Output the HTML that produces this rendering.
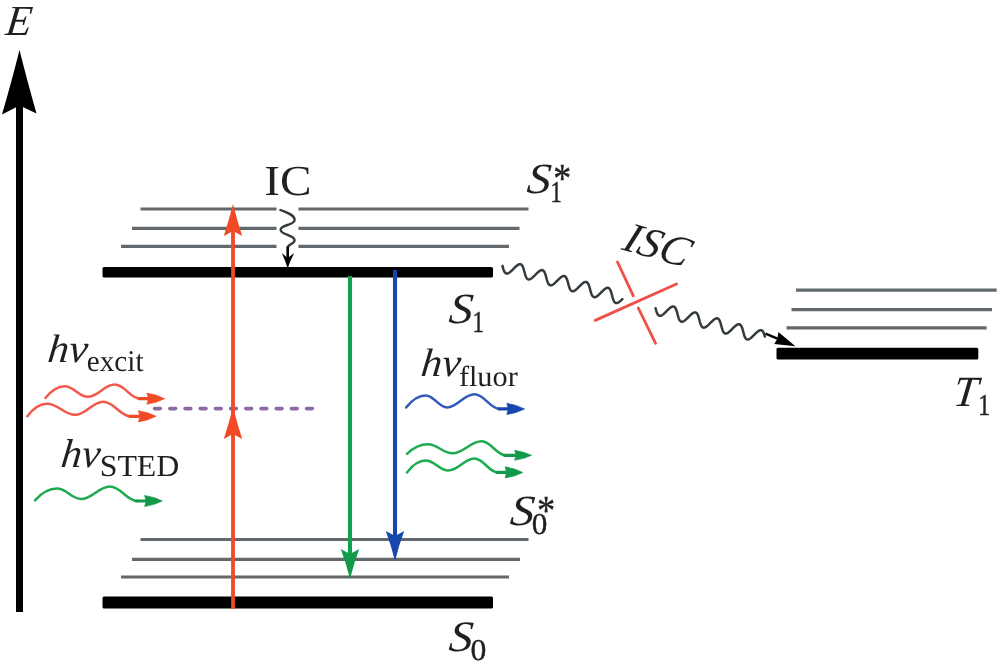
<!DOCTYPE html>
<html><head><meta charset="utf-8"><title>Jablonski diagram</title>
<style>
html,body{margin:0;padding:0;background:#fff;}
body{width:1000px;height:672px;overflow:hidden;}
svg{display:block;text-rendering:geometricPrecision;filter:blur(0.55px);font-family:"Liberation Serif",serif;fill:#231f20;}
</style></head><body>
<svg width="1000" height="672" viewBox="0 0 1000 672">
<rect width="1000" height="672" fill="#fff"/>
<line x1="140.5" y1="209" x2="276.5" y2="209" stroke="#62686b" stroke-width="3.2"/>
<line x1="298.5" y1="209" x2="528.5" y2="209" stroke="#62686b" stroke-width="3.2"/>
<line x1="132" y1="228.3" x2="276.5" y2="228.3" stroke="#62686b" stroke-width="3.2"/>
<line x1="298.5" y1="228.3" x2="519.5" y2="228.3" stroke="#62686b" stroke-width="3.2"/>
<line x1="121" y1="246.4" x2="276.5" y2="246.4" stroke="#62686b" stroke-width="3.2"/>
<line x1="298.5" y1="246.4" x2="509" y2="246.4" stroke="#62686b" stroke-width="3.2"/>
<line x1="140.5" y1="539.5" x2="528.5" y2="539.5" stroke="#62686b" stroke-width="3.2"/>
<line x1="132" y1="559.3" x2="520" y2="559.3" stroke="#62686b" stroke-width="3.2"/>
<line x1="121" y1="577" x2="509" y2="577" stroke="#62686b" stroke-width="3.2"/>
<line x1="796" y1="290.2" x2="996.7" y2="290.2" stroke="#62686b" stroke-width="3.2"/>
<line x1="791.5" y1="309.6" x2="992" y2="309.6" stroke="#62686b" stroke-width="3.2"/>
<line x1="786.5" y1="327.8" x2="986.6" y2="327.8" stroke="#62686b" stroke-width="3.2"/>
<rect x="102.5" y="266.9" width="390.5" height="10.6" rx="1.5" fill="#000"/>
<rect x="102.5" y="596.4" width="390.5" height="12.2" rx="1.5" fill="#000"/>
<rect x="776.5" y="347.8" width="201.79999999999995" height="11.6" rx="1.5" fill="#000"/>
<line x1="154.6" y1="408.6" x2="313.5" y2="408.6" stroke="#8c69a2" stroke-width="3.6" stroke-dasharray="5.8 9.4" stroke-linecap="round"/>
<line x1="19.5" y1="100" x2="19.5" y2="612" stroke="#000" stroke-width="7"/>
<path d="M19.5,50 Q27,80 36.5,113.5 L19.5,105.5 L2,114.5 Q12,80 19.5,50 Z" fill="#000"/>
<line x1="233" y1="225" x2="233" y2="609" stroke="#f04a26" stroke-width="3.8"/>
<path d="M233,204 Q237,220 242.2,236 L233,231 L223.8,236 Q229,220 233,204 Z" fill="#f04a26"/>
<path d="M233,407 Q237,423 242.2,439 L233,434 L223.8,439 Q229,423 233,407 Z" fill="#f04a26"/>
<line x1="350" y1="276" x2="350" y2="560" stroke="#12a14c" stroke-width="4.1"/>
<path d="M350,579 Q354,563 359.2,549 L350,554 L340.8,549 Q346,563 350,579 Z" fill="#13994a"/>
<line x1="395" y1="270" x2="395" y2="540" stroke="#1746ae" stroke-width="4.1"/>
<path d="M395,561 Q399,545 404.2,531 L395,536 L385.8,531 Q391,545 395,561 Z" fill="#1746ae"/>
<path d="M280.4,210 C286.5,212.5 294.6,214.5 294.6,220 C294.6,225.5 280.6,224.5 280.6,229.8 C280.6,235 294.6,235 294.6,240.3 C294.6,244.5 287.7,243.5 287.7,248" fill="none" stroke="#343b3f" stroke-width="2.4" stroke-linecap="round"/>
<line x1="287.7" y1="246.5" x2="287.7" y2="262" stroke="#000" stroke-width="2.6"/>
<path d="M287.7,268.5 Q290,261 294.2,253 L287.7,258 L281.8,253 Q285.5,261 287.7,268.5 Z" fill="#000"/>
<path d="M502.49,265.89 L502.66,266.54 L502.83,267.18 L503.01,267.82 L503.19,268.44 L503.37,269.04 L503.56,269.61 L503.76,270.16 L503.96,270.68 L504.18,271.17 L504.40,271.61 L504.64,272.02 L504.89,272.38 L505.15,272.69 L505.42,272.96 L505.71,273.17 L506.01,273.34 L506.32,273.45 L506.65,273.51 L506.99,273.52 L507.35,273.48 L507.72,273.39 L508.10,273.26 L508.50,273.07 L508.90,272.84 L509.32,272.57 L509.75,272.26 L510.19,271.92 L510.64,271.54 L511.09,271.14 L511.55,270.72 L512.01,270.27 L512.48,269.81 L512.96,269.35 L513.43,268.87 L513.90,268.40 L514.37,267.93 L514.84,267.47 L515.31,267.02 L515.77,266.60 L516.22,266.19 L516.67,265.81 L517.11,265.47 L517.54,265.15 L517.96,264.88 L518.37,264.65 L518.76,264.46 L519.15,264.32 L519.52,264.22 L519.87,264.18 L520.22,264.18 L520.55,264.24 L520.86,264.35 L521.17,264.51 L521.45,264.72 L521.73,264.98 L521.99,265.29 L522.24,265.65 L522.48,266.05 L522.70,266.49 L522.92,266.97 L523.12,267.49 L523.32,268.04 L523.51,268.61 L523.70,269.21 L523.88,269.83 L524.05,270.46 L524.22,271.10 L524.39,271.75 L524.56,272.40 L524.73,273.04 L524.91,273.67 L525.09,274.29 L525.27,274.90 L525.46,275.47 L525.66,276.03 L525.86,276.55 L526.07,277.04 L526.30,277.49 L526.53,277.89 L526.78,278.26 L527.04,278.58 L527.31,278.85 L527.60,279.07 L527.90,279.24 L528.21,279.36 L528.54,279.42 L528.88,279.44 L529.23,279.40 L529.60,279.32 L529.98,279.18 L530.38,279.00 L530.78,278.78 L531.20,278.51 L531.63,278.21 L532.06,277.87 L532.51,277.49 L532.96,277.09 L533.42,276.67 L533.89,276.23 L534.36,275.77 L534.83,275.30 L535.30,274.83 L535.77,274.35 L536.25,273.88 L536.72,273.42 L537.18,272.98 L537.64,272.55 L538.10,272.14 L538.55,271.76 L538.99,271.41 L539.42,271.09 L539.84,270.82 L540.25,270.58 L540.64,270.39 L541.03,270.24 L541.40,270.14 L541.76,270.09 L542.10,270.09 L542.44,270.15 L542.75,270.25 L543.06,270.41 L543.34,270.61 L543.62,270.87 L543.88,271.18 L544.13,271.53 L544.37,271.93 L544.60,272.36 L544.82,272.84 L545.02,273.35 L545.22,273.90 L545.41,274.47 L545.60,275.07 L545.78,275.68 L545.95,276.31 L546.12,276.96 L546.29,277.60 L546.46,278.25 L546.64,278.89 L546.81,279.53 L546.99,280.15 L547.17,280.75 L547.36,281.34 L547.55,281.89 L547.76,282.42 L547.97,282.91 L548.19,283.36 L548.43,283.77 L548.67,284.14 L548.93,284.46 L549.20,284.74 L549.49,284.96 L549.78,285.14 L550.10,285.26 L550.42,285.33 L550.76,285.35 L551.12,285.32 L551.48,285.24 L551.86,285.11 L552.26,284.94 L552.66,284.71 L553.08,284.45 L553.50,284.15 L553.94,283.81 L554.39,283.44 L554.84,283.04 L555.30,282.62 L555.76,282.18 L556.23,281.72 L556.70,281.26 L557.17,280.78 L557.65,280.31 L558.12,279.84 L558.59,279.38 L559.06,278.93 L559.52,278.50 L559.97,278.09 L560.42,277.71 L560.86,277.35 L561.29,277.04 L561.72,276.75 L562.13,276.51 L562.52,276.32 L562.91,276.17 L563.28,276.06 L563.64,276.01 L563.99,276.00 L564.32,276.05 L564.64,276.15 L564.94,276.30 L565.24,276.51 L565.51,276.76 L565.78,277.06 L566.03,277.41 L566.27,277.80 L566.50,278.24 L566.71,278.71 L566.92,279.22 L567.12,279.76 L567.31,280.33 L567.50,280.93 L567.68,281.54 L567.85,282.17 L568.02,282.81 L568.19,283.46 L568.36,284.10 L568.54,284.75 L568.71,285.39 L568.89,286.01 L569.07,286.61 L569.26,287.20 L569.45,287.76 L569.65,288.28 L569.87,288.78 L570.09,289.23 L570.32,289.65 L570.57,290.02 L570.82,290.35 L571.09,290.63 L571.38,290.86 L571.67,291.04 L571.98,291.17 L572.31,291.24 L572.65,291.27 L573.00,291.24 L573.37,291.16 L573.74,291.04 L574.14,290.87 L574.54,290.65 L574.96,290.39 L575.38,290.09 L575.82,289.76 L576.26,289.39 L576.71,288.99 L577.17,288.58 L577.64,288.14 L578.10,287.68 L578.58,287.21 L579.05,286.74 L579.52,286.27 L579.99,285.80 L580.46,285.33 L580.93,284.88 L581.39,284.45 L581.85,284.04 L582.30,283.65 L582.74,283.30 L583.17,282.98 L583.59,282.69 L584.01,282.45 L584.40,282.25 L584.79,282.09 L585.17,281.98 L585.53,281.92 L585.87,281.92 L586.21,281.96 L586.53,282.05 L586.83,282.20 L587.13,282.40 L587.40,282.65 L587.67,282.94 L587.92,283.29 L588.16,283.68 L588.39,284.11 L588.61,284.58 L588.82,285.09 L589.02,285.62 L589.21,286.19 L589.40,286.78 L589.58,287.40 L589.75,288.03 L589.92,288.67 L590.09,289.31 L590.27,289.96 L590.44,290.60 L590.61,291.24 L590.79,291.87 L590.97,292.47 L591.16,293.06 L591.35,293.62 L591.55,294.15 L591.76,294.65 L591.98,295.11 L592.22,295.53 L592.46,295.90 L592.72,296.24 L592.98,296.52 L593.27,296.75 L593.56,296.94 L593.87,297.07 L594.19,297.15 L594.53,297.18 L594.88,297.16 L595.25,297.09 L595.63,296.97 L596.02,296.80 L596.42,296.58 L596.83,296.33 L597.26,296.03 L597.69,295.70 L598.14,295.34 L598.59,294.95 L599.05,294.53 L599.51,294.09 L599.98,293.64 L600.45,293.17 L600.92,292.70 L601.39,292.22 L601.87,291.75 L602.34,291.29 L602.80,290.84 L603.27,290.40 L603.72,289.99 L604.17,289.60 L604.62,289.24 L605.05,288.92 L605.47,288.63 L605.88,288.38 L606.29,288.18 L606.67,288.02 L607.05,287.90 L607.41,287.84 L607.76,287.83 L608.09,287.87 L608.42,287.96 L608.72,288.10 L609.02,288.29 L609.30,288.54 L609.56,288.83 L609.82,289.17 L610.06,289.55 L610.29,289.98 L610.51,290.45 L610.72,290.95 L610.92,291.49 L611.11,292.05 L611.30,292.64 L611.48,293.25 L611.65,293.88 L611.82,294.52 L612.00,295.17 L612.17,295.81 L612.34,296.46 L612.51,297.10 L612.69,297.72 L612.87,298.33 L613.05,298.92 L613.25,299.48 L613.45,300.02 L613.66,300.52 L613.88,300.98 L614.11,301.40 L614.35,301.79 L614.61,302.12 L614.88,302.41 L615.16,302.65 L615.45,302.84 L615.76,302.97 L616.08,303.06 L616.42,303.09 L616.77,303.08 L617.13,303.01 L617.51,302.89 L617.90,302.73 L618.30,302.52 L618.71,302.27 L619.14,301.98 L619.57,301.65 L620.01,301.29 L620.46,300.90 L620.92,300.48 L621.38,300.04 L621.85,299.59 L622.32,299.13" fill="none" stroke="#343b3f" stroke-width="2.5" stroke-linecap="round" stroke-linejoin="round"/>
<path d="M655.59,308.19 L655.76,308.84 L655.93,309.49 L656.11,310.12 L656.29,310.74 L656.47,311.34 L656.66,311.92 L656.86,312.47 L657.06,312.99 L657.28,313.47 L657.51,313.92 L657.74,314.32 L657.99,314.68 L658.25,315.00 L658.53,315.26 L658.81,315.48 L659.12,315.64 L659.43,315.75 L659.76,315.82 L660.10,315.82 L660.46,315.78 L660.83,315.69 L661.21,315.55 L661.61,315.36 L662.02,315.13 L662.44,314.86 L662.87,314.55 L663.31,314.21 L663.75,313.83 L664.21,313.42 L664.67,313.00 L665.14,312.55 L665.61,312.09 L666.08,311.62 L666.55,311.15 L667.03,310.67 L667.50,310.20 L667.97,309.74 L668.43,309.30 L668.90,308.87 L669.35,308.47 L669.80,308.09 L670.24,307.75 L670.67,307.44 L671.09,307.16 L671.49,306.93 L671.89,306.75 L672.27,306.61 L672.64,306.52 L673.00,306.48 L673.34,306.49 L673.67,306.55 L673.99,306.66 L674.29,306.82 L674.58,307.04 L674.85,307.31 L675.11,307.62 L675.36,307.98 L675.60,308.39 L675.82,308.83 L676.04,309.32 L676.24,309.84 L676.44,310.39 L676.63,310.97 L676.81,311.57 L676.99,312.19 L677.17,312.82 L677.34,313.47 L677.51,314.11 L677.68,314.76 L677.85,315.41 L678.03,316.04 L678.21,316.66 L678.39,317.26 L678.58,317.84 L678.78,318.39 L678.98,318.91 L679.20,319.39 L679.42,319.84 L679.66,320.24 L679.91,320.60 L680.17,320.91 L680.45,321.18 L680.73,321.39 L681.03,321.56 L681.35,321.67 L681.68,321.73 L682.02,321.74 L682.38,321.70 L682.75,321.60 L683.14,321.46 L683.53,321.28 L683.94,321.04 L684.36,320.77 L684.79,320.46 L685.23,320.11 L685.68,319.74 L686.13,319.33 L686.59,318.91 L687.06,318.46 L687.53,318.00 L688.00,317.53 L688.47,317.06 L688.95,316.58 L689.42,316.11 L689.89,315.65 L690.36,315.21 L690.82,314.78 L691.27,314.38 L691.72,314.00 L692.16,313.66 L692.59,313.35 L693.01,313.07 L693.41,312.84 L693.81,312.66 L694.19,312.52 L694.56,312.43 L694.92,312.39 L695.26,312.40 L695.59,312.46 L695.91,312.57 L696.21,312.74 L696.50,312.96 L696.77,313.22 L697.03,313.54 L697.28,313.90 L697.52,314.31 L697.74,314.75 L697.96,315.24 L698.16,315.76 L698.36,316.31 L698.55,316.89 L698.73,317.49 L698.91,318.11 L699.08,318.74 L699.26,319.39 L699.43,320.03 L699.60,320.68 L699.77,321.33 L699.95,321.96 L700.12,322.58 L700.31,323.18 L700.50,323.76 L700.70,324.31 L700.90,324.82 L701.12,325.31 L701.34,325.75 L701.58,326.16 L701.83,326.52 L702.09,326.83 L702.36,327.09 L702.65,327.31 L702.95,327.47 L703.27,327.58 L703.60,327.64 L703.94,327.65 L704.30,327.61 L704.67,327.52 L705.06,327.37 L705.45,327.19 L705.86,326.95 L706.28,326.68 L706.71,326.37 L707.15,326.02 L707.60,325.65 L708.05,325.24 L708.51,324.81 L708.98,324.37 L709.45,323.91 L709.92,323.44 L710.40,322.96 L710.87,322.49 L711.34,322.02 L711.81,321.56 L712.28,321.12 L712.74,320.69 L713.19,320.29 L713.64,319.91 L714.08,319.57 L714.51,319.26 L714.93,318.99 L715.33,318.76 L715.73,318.57 L716.11,318.43 L716.48,318.34 L716.84,318.30 L717.18,318.31 L717.51,318.38 L717.83,318.49 L718.13,318.66 L718.42,318.87 L718.69,319.14 L718.95,319.46 L719.20,319.82 L719.43,320.22 L719.66,320.67 L719.87,321.16 L720.08,321.68 L720.28,322.23 L720.47,322.81 L720.65,323.41 L720.83,324.03 L721.00,324.66 L721.18,325.31 L721.35,325.95 L721.52,326.60 L721.69,327.25 L721.86,327.88 L722.04,328.50 L722.23,329.10 L722.42,329.68 L722.61,330.23 L722.82,330.74 L723.04,331.23 L723.26,331.67 L723.50,332.07 L723.75,332.43 L724.01,332.75 L724.28,333.01 L724.57,333.22 L724.87,333.39 L725.19,333.50 L725.52,333.56 L725.86,333.56 L726.22,333.52 L726.59,333.43 L726.98,333.29 L727.37,333.10 L727.78,332.87 L728.20,332.59 L728.63,332.28 L729.07,331.93 L729.52,331.56 L729.97,331.15 L730.43,330.72 L730.90,330.28 L731.37,329.82 L731.84,329.35 L732.32,328.87 L732.79,328.40 L733.26,327.93 L733.73,327.47 L734.20,327.02 L734.66,326.60 L735.11,326.20 L735.56,325.82 L736.00,325.48 L736.43,325.17 L736.85,324.90 L737.25,324.67 L737.65,324.48 L738.03,324.34 L738.40,324.25 L738.76,324.22 L739.10,324.23 L739.43,324.29 L739.75,324.40 L740.05,324.57 L740.33,324.79 L740.61,325.06 L740.87,325.37 L741.12,325.73 L741.35,326.14 L741.58,326.59 L741.79,327.07 L742.00,327.60 L742.20,328.15 L742.38,328.73 L742.57,329.33 L742.75,329.95 L742.92,330.58 L743.09,331.23 L743.26,331.87 L743.43,332.52 L743.61,333.17 L743.78,333.80 L743.96,334.42 L744.14,335.02 L744.34,335.60 L744.53,336.14 L744.74,336.66 L744.95,337.15 L745.18,337.59 L745.42,337.99 L745.67,338.35 L745.93,338.66 L746.20,338.93 L746.49,339.14 L746.79,339.30 L747.11,339.41 L747.44,339.47 L747.78,339.48 L748.14,339.43 L748.51,339.34 L748.90,339.20 L749.29,339.01 L749.70,338.78 L750.12,338.50 L750.55,338.19 L750.99,337.84 L751.44,337.47 L751.89,337.06 L752.35,336.63 L752.82,336.19 L753.29,335.73 L753.76,335.26 L754.24,334.78 L754.71,334.31 L755.18,333.84 L755.65,333.38 L756.12,332.93 L756.58,332.51 L757.03,332.10 L757.48,331.73 L757.92,331.39 L758.35,331.08 L758.77,330.81 L759.18,330.58 L759.57,330.39 L759.95,330.26 L760.32,330.17 L760.68,330.13 L761.02,330.14 L761.35,330.20 L761.67,330.32 L761.97,330.49 L762.25,330.71 L762.53,330.97 L762.79,331.29 L763.04,331.65 L763.27,332.06 L763.50,332.51 L763.71,332.99 L763.92,333.51 L764.11,334.07 L764.30,334.65 L764.49,335.25 L764.66,335.87 L764.84,336.50" fill="none" stroke="#343b3f" stroke-width="2.5" stroke-linecap="round" stroke-linejoin="round"/>
<line x1="765.5" y1="333.6" x2="778" y2="338.8" stroke="#000" stroke-width="2.4"/>
<path d="M795.4,346.2 L778.4,332 L777.4,338.7 L774.2,343.9 Z" fill="#000"/>
<line x1="617.5" y1="262" x2="633.3" y2="295.8" stroke="#ee4f48" stroke-width="2.8" stroke-linecap="round"/>
<line x1="638.3" y1="308" x2="655.6" y2="343.3" stroke="#ee4f48" stroke-width="2.8" stroke-linecap="round"/>
<line x1="595.2" y1="320.4" x2="676.5" y2="284" stroke="#ee4f48" stroke-width="2.8" stroke-linecap="round"/>
<path d="M45.40,398.00 C51.22,390.68 57.04,386.20 64.80,386.20 C73.96,386.20 78.54,396.70 87.70,396.70 C98.54,396.70 103.96,384.60 114.80,384.60 C124.96,384.60 130.04,398.70 140.20,398.70" fill="none" stroke="#f15a4b" stroke-width="2.5" stroke-linecap="round" stroke-linejoin="round"/><line x1="139.2" y1="398.7" x2="148.89999999999998" y2="398.7" stroke="#f04a26" stroke-width="3.2" stroke-linecap="round"/><path d="M164.7,398.7 Q156.69,394.5 146.89999999999998,393.09999999999997 L148.39999999999998,398.7 L146.89999999999998,404.3 Q156.69,402.9 164.7,398.7 Z" fill="#f04a26" stroke="#f04a26" stroke-width="0.6" stroke-linejoin="round"/>
<path d="M27.30,416.20 C33.21,408.45 39.12,403.70 47.00,403.70 C58.28,403.70 63.92,414.80 75.20,414.80 C86.44,414.80 92.06,401.70 103.30,401.70 C114.30,401.70 119.80,416.30 130.80,416.30" fill="none" stroke="#f15a4b" stroke-width="2.5" stroke-linecap="round" stroke-linejoin="round"/><line x1="129.8" y1="416.3" x2="140.39999999999998" y2="416.3" stroke="#f04a26" stroke-width="3.2" stroke-linecap="round"/><path d="M156.2,416.3 Q148.19,412.1 138.39999999999998,410.7 L139.89999999999998,416.3 L138.39999999999998,421.90000000000003 Q148.19,420.5 156.2,416.3 Z" fill="#f04a26" stroke="#f04a26" stroke-width="0.6" stroke-linejoin="round"/>
<path d="M35.00,500.40 C41.60,493.08 48.20,488.60 57.00,488.60 C66.60,488.60 71.40,499.00 81.00,499.00 C92.60,499.00 98.40,486.40 110.00,486.40 C121.00,486.40 126.50,501.00 137.50,501.00" fill="none" stroke="#1eab50" stroke-width="2.5" stroke-linecap="round" stroke-linejoin="round"/><line x1="136.5" y1="501" x2="146.6" y2="501" stroke="#13994a" stroke-width="3.2" stroke-linecap="round"/><path d="M162.4,501 Q154.39000000000001,496.8 144.6,495.4 L146.1,501 L144.6,506.6 Q154.39000000000001,505.2 162.4,501 Z" fill="#13994a" stroke="#13994a" stroke-width="0.6" stroke-linejoin="round"/>
<path d="M406.20,407.40 C412.05,400.02 417.90,395.50 425.70,395.50 C434.22,395.50 438.48,407.40 447.00,407.40 C458.00,407.40 463.50,394.30 474.50,394.30 C484.70,394.30 489.80,408.90 500.00,408.90" fill="none" stroke="#3459bd" stroke-width="2.5" stroke-linecap="round" stroke-linejoin="round"/><line x1="499.0" y1="408.9" x2="508.8" y2="408.9" stroke="#1746ae" stroke-width="3.2" stroke-linecap="round"/><path d="M524.6,408.9 Q516.59,404.7 506.8,403.29999999999995 L508.3,408.9 L506.8,414.5 Q516.59,413.09999999999997 524.6,408.9 Z" fill="#1746ae" stroke="#1746ae" stroke-width="0.6" stroke-linejoin="round"/>
<path d="M407.00,453.80 C413.30,447.91 419.60,444.30 428.00,444.30 C437.76,444.30 442.64,453.30 452.40,453.30 C464.12,453.30 469.98,441.20 481.70,441.20 C491.34,441.20 496.16,455.30 505.80,455.30" fill="none" stroke="#1eab50" stroke-width="2.5" stroke-linecap="round" stroke-linejoin="round"/><line x1="504.8" y1="455.3" x2="516.6" y2="455.3" stroke="#13994a" stroke-width="3.2" stroke-linecap="round"/><path d="M531.6,455.3 Q523.95,451.55 514.6,450.3 L516.1,455.3 L514.6,460.3 Q523.95,459.05 531.6,455.3 Z" fill="#13994a" stroke="#13994a" stroke-width="0.6" stroke-linejoin="round"/>
<path d="M407.00,472.40 C412.61,465.02 418.22,460.50 425.70,460.50 C434.74,460.50 439.26,470.50 448.30,470.50 C458.78,470.50 464.02,458.60 474.50,458.60 C483.90,458.60 488.60,472.40 498.00,472.40" fill="none" stroke="#1eab50" stroke-width="2.5" stroke-linecap="round" stroke-linejoin="round"/><line x1="497.0" y1="472.4" x2="507.09999999999997" y2="472.4" stroke="#13994a" stroke-width="3.2" stroke-linecap="round"/><path d="M522.9,472.4 Q514.89,468.2 505.09999999999997,466.79999999999995 L506.59999999999997,472.4 L505.09999999999997,478.0 Q514.89,476.59999999999997 522.9,472.4 Z" fill="#13994a" stroke="#13994a" stroke-width="0.6" stroke-linejoin="round"/>
<text transform="matrix(0.9802 0 -0.1189 1 4.74 35.00)" font-size="42.86" font-style="italic">E</text>
<text transform="matrix(1.1048 0 -0.0000 1 264.27 195.07)" font-size="42.77" font-style="normal">IC</text>
<text transform="matrix(1.1100 0 -0.0963 1 526.11 193.27)" font-size="43.07" font-style="italic">S</text>
<text transform="matrix(0.7472 0 -0.0000 1 550.54 202.00)" font-size="30.30" font-style="normal" stroke="#231f20" stroke-width="0.5" vector-effect="non-scaling-stroke">1</text>
<text transform="matrix(0.8672 0 -0.0000 1 553.20 191.88)" font-size="41.45" font-style="normal" stroke="#231f20" stroke-width="0.4" vector-effect="non-scaling-stroke">*</text>
<text transform="matrix(1.1100 0 -0.0963 1 448.11 323.27)" font-size="43.07" font-style="italic">S</text>
<text transform="matrix(0.7527 0 -0.0000 1 472.61 332.00)" font-size="30.45" font-style="normal" stroke="#231f20" stroke-width="0.5" vector-effect="non-scaling-stroke">1</text>
<text transform="matrix(1.1228 0 -0.0941 1 509.21 525.27)" font-size="43.07" font-style="italic">S</text>
<text transform="matrix(1.0289 0 -0.0000 1 531.76 534.10)" font-size="30.30" font-style="normal" stroke="#231f20" stroke-width="0.4" vector-effect="non-scaling-stroke">0</text>
<text transform="matrix(0.8850 0 -0.0000 1 537.08 523.81)" font-size="41.18" font-style="normal" stroke="#231f20" stroke-width="0.4" vector-effect="non-scaling-stroke">*</text>
<text transform="matrix(1.0991 0 -0.0982 1 448.11 651.47)" font-size="43.37" font-style="italic">S</text>
<text transform="matrix(1.0444 0 -0.0000 1 470.54 660.10)" font-size="30.30" font-style="normal" stroke="#231f20" stroke-width="0.4" vector-effect="non-scaling-stroke">0</text>
<text transform="matrix(1.0098 0 -0.1138 1 952.22 405.90)" font-size="43.01" font-style="italic">T</text>
<text transform="matrix(0.7806 0 -0.0000 1 978.34 415.00)" font-size="30.45" font-style="normal" stroke="#231f20" stroke-width="0.5" vector-effect="non-scaling-stroke">1</text>
<g transform="translate(620.4,249.2) rotate(15.8)"><text transform="matrix(1.0274 0 -0.1107 1 0.13 -0.03)" font-size="43.07" font-style="italic">ISC</text></g>
<text transform="matrix(1.0674 0 -0.1037 1 46.83 361.50)" font-size="39.67" font-style="italic">hv</text>
<text transform="matrix(0.9671 0 -0.0000 1 86.83 371.20)" font-size="30.15" font-style="normal">excit</text>
<text transform="matrix(1.0322 0 -0.1099 1 59.96 467.00)" font-size="40.24" font-style="italic">hv</text>
<text transform="matrix(1.0471 0 -0.0000 1 99.67 476.20)" font-size="30.45" font-style="normal">STED</text>
<text transform="matrix(1.0613 0 -0.1048 1 420.04 375.70)" font-size="39.67" font-style="italic">hv</text>
<text transform="matrix(1.0429 0 -0.0000 1 458.89 386.21)" font-size="29.02" font-style="normal">fluor</text>
</svg>
</body></html>
